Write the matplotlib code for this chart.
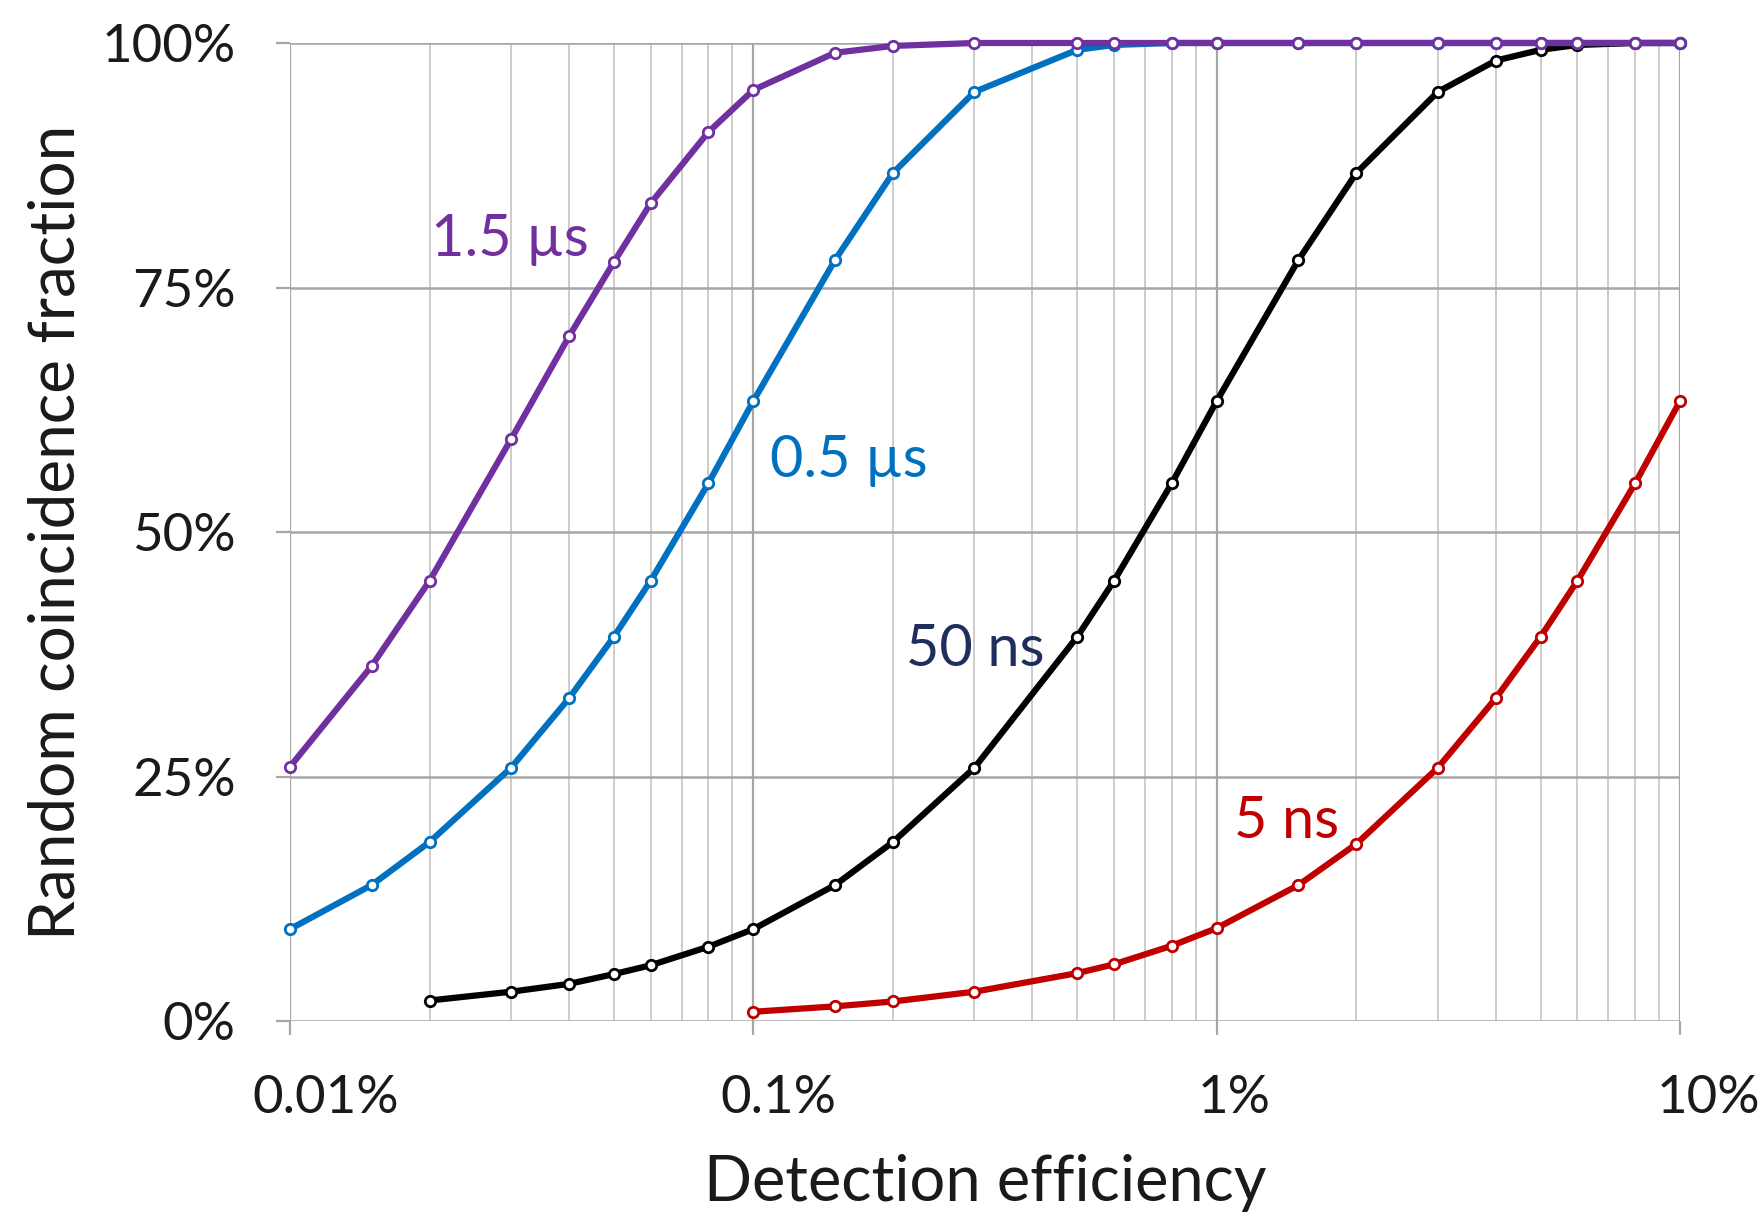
import matplotlib
matplotlib.use('Agg')
import matplotlib.pyplot as plt
import matplotlib.transforms as mtransforms
from matplotlib.ticker import LogLocator, FixedLocator, NullFormatter

plt.rcParams['font.family'] = ['Lato', 'DejaVu Sans']

# detection efficiency (%) and random coincidence fraction (%)
x_15us = [0.01, 0.015, 0.02, 0.03, 0.04, 0.05, 0.06, 0.08, 0.1, 0.15, 0.2, 0.3,
          0.5, 0.6, 0.8, 1, 1.5, 2, 3, 4, 5, 6, 8, 10]
y_15us = [26, 36.3, 45, 59.5, 70, 77.6, 83.6, 90.9, 95.2, 99, 99.7, 100,
          100, 100, 100, 100, 100, 100, 100, 100, 100, 100, 100, 100]

x_05us = [0.01, 0.015, 0.02, 0.03, 0.04, 0.05, 0.06, 0.08, 0.1, 0.15, 0.2, 0.3,
          0.5, 0.6, 0.8, 1, 1.5, 2, 3, 4, 5, 6, 8, 10]
y_05us = [9.4, 13.9, 18.3, 25.9, 33, 39.3, 45, 55, 63.4, 77.8, 86.7, 95,
          99.3, 99.8, 100, 100, 100, 100, 100, 100, 100, 100, 100, 100]

x_50ns = [0.02, 0.03, 0.04, 0.05, 0.06, 0.08, 0.1, 0.15, 0.2, 0.3,
          0.5, 0.6, 0.8, 1, 1.5, 2, 3, 4, 5, 6, 8, 10]
y_50ns = [2.1, 3, 3.8, 4.8, 5.7, 7.6, 9.4, 13.9, 18.3, 25.9,
          39.3, 45, 55, 63.4, 77.8, 86.7, 95, 98.2, 99.3, 99.8, 100, 100]

x_5ns = [0.1, 0.15, 0.2, 0.3, 0.5, 0.6, 0.8, 1, 1.5, 2, 3, 4, 5, 6, 8, 10]
y_5ns = [0.95, 1.5, 2, 3, 4.9, 5.8, 7.7, 9.5, 13.9, 18.1, 25.9, 33, 39.3, 45, 55, 63.4]

x_ticks = [0.01, 0.1, 1, 10]
x_ticklabels = ['0.01%', '0.1%', '1%', '10%']
y_ticks = [0, 25, 50, 75, 100]
y_ticklabels = ['0%', '25%', '50%', '75%', '100%']

fig = plt.figure(figsize=(17.63, 12.18), dpi=100)
ax = fig.add_axes([0.1645, 0.1617, 0.7885, 0.803])

series = [
    (x_50ns, y_50ns, 'black'),
    (x_5ns, y_5ns, '#C00000'),
    (x_05us, y_05us, '#0070C0'),
    (x_15us, y_15us, '#7030A0'),
]
for xs, ys, col in series:
    ax.plot(xs, ys, color=col, lw=4.5, marker='o', ms=7.5, mfc='white',
            mec=col, mew=2, zorder=3, clip_on=False)

ax.set_xscale('log')
ax.set_xlim(0.01, 10)
ax.set_ylim(0, 100)

ax.xaxis.set_major_locator(FixedLocator(x_ticks))
ax.set_xticklabels(x_ticklabels)
ax.xaxis.set_minor_locator(LogLocator(base=10, subs=range(2, 10), numticks=20))
ax.xaxis.set_minor_formatter(NullFormatter())
ax.set_yticks(y_ticks)
ax.set_yticklabels(y_ticklabels)

ax.grid(which='major', axis='x', color='#A6A6A6', lw=1.6)
ax.grid(which='minor', axis='x', color='#CCCCCC', lw=1.4)
ax.grid(which='major', axis='y', color='#A6A6A6', lw=1.8)
ax.set_axisbelow(True)
for sp in ax.spines.values():
    sp.set_visible(False)

ax.tick_params(axis='both', which='major', length=10, width=1.6, color='#A6A6A6',
               labelsize=38, labelcolor='#1a1a1a')
ax.tick_params(axis='x', which='major', pad=29)
ax.tick_params(axis='y', which='major', pad=29)
ax.tick_params(axis='x', which='minor', length=0)

# the x tick labels sit a little right of their ticks, as in the original
for lbl, dx in zip(ax.get_xticklabels(), [36, 25, 17, 28]):
    lbl.set_transform(lbl.get_transform() +
                      mtransforms.ScaledTranslation(dx / 100, 0, fig.dpi_scale_trans))

ax.set_xlabel('Detection efficiency', fontsize=45.5, color='#1a1a1a')
ax.set_ylabel('Random coincidence fraction', fontsize=46, color='#1a1a1a')
ax.xaxis.label.set_va('center')
ax.yaxis.label.set_va('center')
ax.xaxis.set_label_coords(0.5, -0.1656)
ax.yaxis.set_label_coords(-0.168, 0.5)

ax.text(0.0201, 79.9, '1.5 µs', color='#7030A0', fontsize=41.5, ha='left', va='center')
ax.text(0.1087, 57.3, '0.5 µs', color='#0070C0', fontsize=41.5, ha='left', va='center')
ax.text(0.2136, 38.0, '50 ns', color='#1F2E5C', fontsize=41.5, ha='left', va='center')
ax.text(1.09, 20.4, '5 ns', color='#C00000', fontsize=41.5, ha='left', va='center')

fig.savefig('out.png', dpi=100)
